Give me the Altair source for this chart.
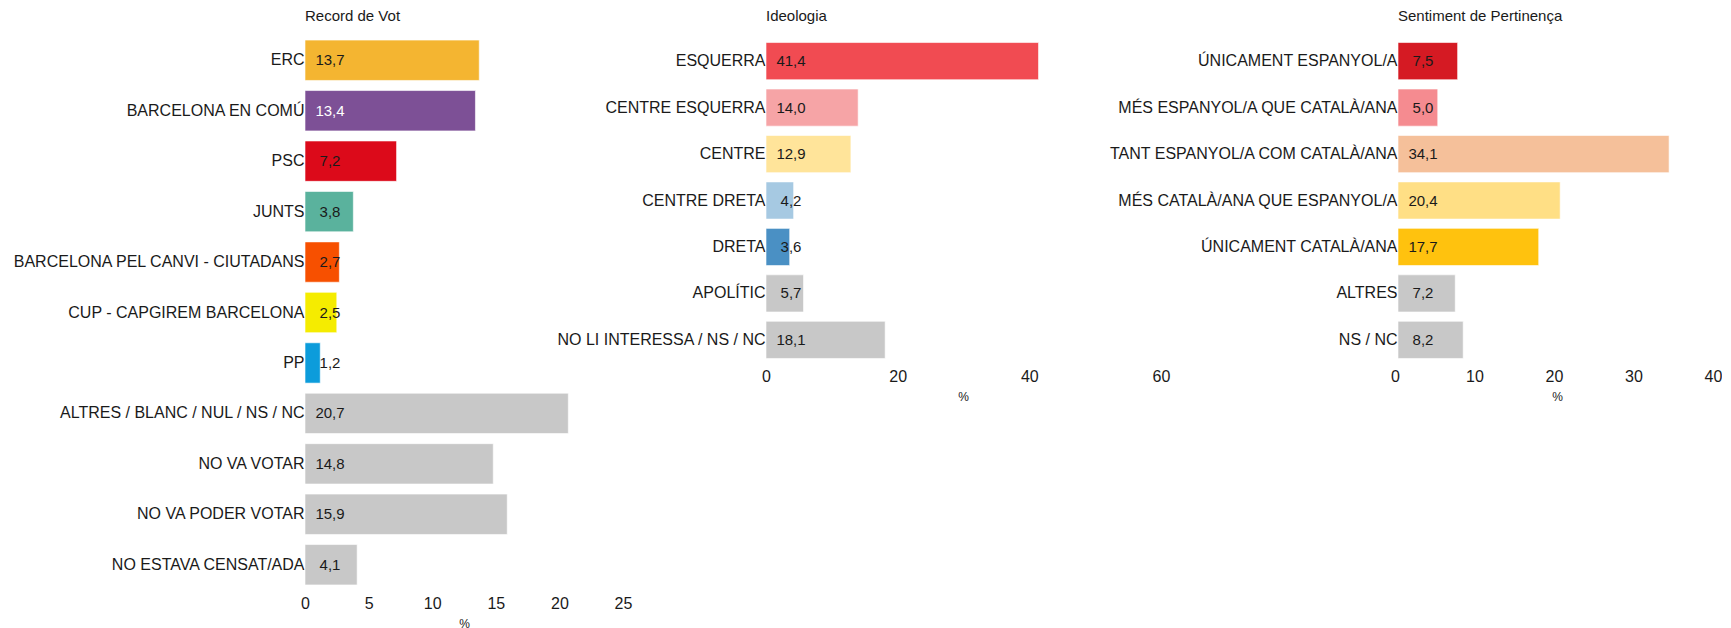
import altair as alt
import pandas as pd

FONT = "Liberation Sans"
INK = "#1a1a1a"

# ---- Record de Vot
vot_cats = ["ERC", "BARCELONA EN COMÚ", "PSC", "JUNTS", "BARCELONA PEL CANVI - CIUTADANS",
            "CUP - CAPGIREM BARCELONA", "PP", "ALTRES / BLANC / NUL / NS / NC",
            "NO VA VOTAR", "NO VA PODER VOTAR", "NO ESTAVA CENSAT/ADA"]
vot_vals = [13.7, 13.4, 7.2, 3.8, 2.7, 2.5, 1.2, 20.7, 14.8, 15.9, 4.1]
vot_colors = ["#F4B531", "#7D5096", "#DC0A1A", "#5AB29D", "#F75000", "#F5EC00", "#0C9CDB",
              "#C8C8C8", "#C8C8C8", "#C8C8C8", "#C8C8C8"]
vot_ticks = [0, 5, 10, 15, 20, 25]

# ---- Ideologia
ide_cats = ["ESQUERRA", "CENTRE ESQUERRA", "CENTRE", "CENTRE DRETA", "DRETA", "APOLÍTIC",
            "NO LI INTERESSA / NS / NC"]
ide_vals = [41.4, 14.0, 12.9, 4.2, 3.6, 5.7, 18.1]
ide_colors = ["#F14B52", "#F6A4A6", "#FFE49A", "#A6C9E2", "#4A90C4", "#C8C8C8", "#C8C8C8"]
ide_ticks = [0, 20, 40, 60]

# ---- Sentiment de Pertinença
sen_cats = ["ÚNICAMENT ESPANYOL/A", "MÉS ESPANYOL/A QUE CATALÀ/ANA", "TANT ESPANYOL/A COM CATALÀ/ANA",
            "MÉS CATALÀ/ANA QUE ESPANYOL/A", "ÚNICAMENT CATALÀ/ANA", "ALTRES", "NS / NC"]
sen_vals = [7.5, 5.0, 34.1, 20.4, 17.7, 7.2, 8.2]
sen_colors = ["#D51A23", "#F58B90", "#F5C09A", "#FFDF85", "#FFC20E", "#C8C8C8", "#C8C8C8"]
sen_ticks = [0, 10, 20, 30, 40]

light_text = ["BARCELONA EN COMÚ"]


def panel(title, cats, vals, colors, ticks, width, xmax, height, po, lab_pad, title_x, lab_off=0):
    df = pd.DataFrame({
        "cat": cats,
        "val": vals,
        "fill": colors,
        "lab": [f"{v:.1f}".replace(".", ",") for v in vals],
        "tc": ["#ffffff" if c in light_text else INK for c in cats],
    })
    y = alt.Y("cat:N", sort=cats, title=None,
              scale=alt.Scale(paddingInner=0.2, paddingOuter=po),
              axis=alt.Axis(domain=False, ticks=False, labelFontSize=16, labelColor=INK,
                            labelPadding=1, labelLimit=0, labelFont=FONT))
    x = alt.X("val:Q", title="%",
              scale=alt.Scale(domain=[0, xmax], nice=False, zero=True),
              axis=alt.Axis(values=ticks, domain=False, ticks=False, grid=False, format="d",
                            labelFlush=False, labelOverlap=False, labelOffset=lab_off,
                            labelFontSize=16, labelColor=INK, labelFont=FONT,
                            labelPadding=lab_pad, titleFontSize=12, titleFontWeight="normal",
                            titleFont=FONT, titleColor=INK, titleX=title_x, titlePadding=7))
    bars = alt.Chart(df).mark_bar(stroke="white", strokeWidth=1, strokeOpacity=0.6).encode(
        x=x, y=y, color=alt.Color("fill:N", scale=None))
    text = alt.Chart(df).mark_text(align="center", baseline="middle", dx=25, fontSize=15,
                                   font=FONT).encode(
        x=alt.datum(0), y=alt.Y("cat:N", sort=cats), text="lab:N",
        color=alt.Color("tc:N", scale=None))
    return alt.layer(bars, text).properties(
        width=width, height=height,
        title=alt.TitleParams(title, anchor="start", frame="group", fontSize=15,
                              fontWeight="normal", font=FONT, color=INK, offset=6))


SPACING = 143
p1 = panel("Record de Vot", vot_cats, vot_vals, vot_colors, vot_ticks, 318, 25, 565, 0.2, 0, 159)
w2 = 1399 - 767 - SPACING
p2 = panel("Ideologia", ide_cats, ide_vals, ide_colors, ide_ticks, w2, w2 / 6.583, 341, 0.27, -3, 197)
p3 = panel("Sentiment de Pertinença", sen_cats, sen_vals, sen_colors, sen_ticks, 318, 40, 341, 0.27, -3, 159, -3)

chart = alt.hconcat(p1, p2, p3, spacing=SPACING, bounds="flush").properties(
    padding={"left": 3, "top": 1, "right": 0, "bottom": 5}
).configure(font=FONT).configure_view(stroke="transparent", strokeWidth=0)

chart.save("out.html", embed_options={"renderer": "svg", "actions": False})
